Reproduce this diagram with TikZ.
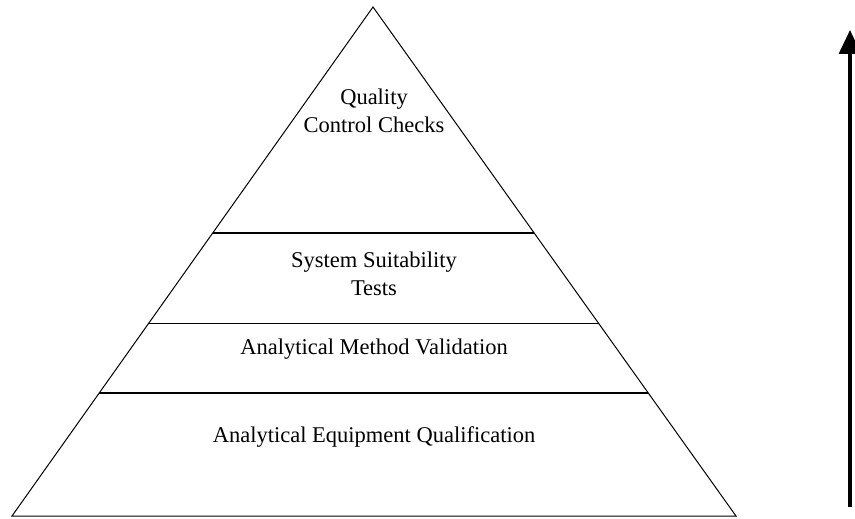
\documentclass[tikz,border=0pt]{standalone}
\usepackage{fontspec}
\setmainfont{Liberation Serif}
\usetikzlibrary{calc,arrows.meta}

\begin{document}
\begin{tikzpicture}[x=1pt,y=-1pt,
	level/.style={font=\fontsize{22.5}{28}\selectfont, align=center, inner sep=0pt}]
	\useasboundingbox (0,0) rectangle (855,519);
	% pyramid outline
	\coordinate (top) at (373,7);
	\coordinate (bl) at (12,516);
	\coordinate (br) at (736,516);
	\draw[line width=1pt] (bl) -- (top) -- (br) -- cycle;
	% tier boundaries
	\coordinate (l1) at ($(top)!0.444!(bl)$);
	\coordinate (r1) at ($(top)!0.444!(br)$);
	\coordinate (l2) at ($(top)!0.622!(bl)$);
	\coordinate (r2) at ($(top)!0.622!(br)$);
	\coordinate (l3) at ($(top)!0.758!(bl)$);
	\coordinate (r3) at ($(top)!0.758!(br)$);
	\draw[line width=1.4pt] (l1) -- (r1);
	\draw[line width=1.4pt] (l2) -- (r2);
	\draw[line width=1.4pt] (l3) -- (r3);
	% tier labels
	\node[level] (qc) at (374,111) {Quality\\Control Checks};
	\node[level] (sst) at (374,274) {System Suitability\\Tests};
	\node[level] (amv) at (374,349) {Analytical Method Validation};
	\node[level] (aeq) at (374,437) {Analytical Equipment Qualification};
	% upward arrow
	\coordinate (abot) at (850,507);
	\coordinate (atop) at (850,30);
	\draw[line width=3.2pt, -{Triangle[width=22pt,length=24pt]}] (abot) -- (atop);
\end{tikzpicture}
\end{document}
